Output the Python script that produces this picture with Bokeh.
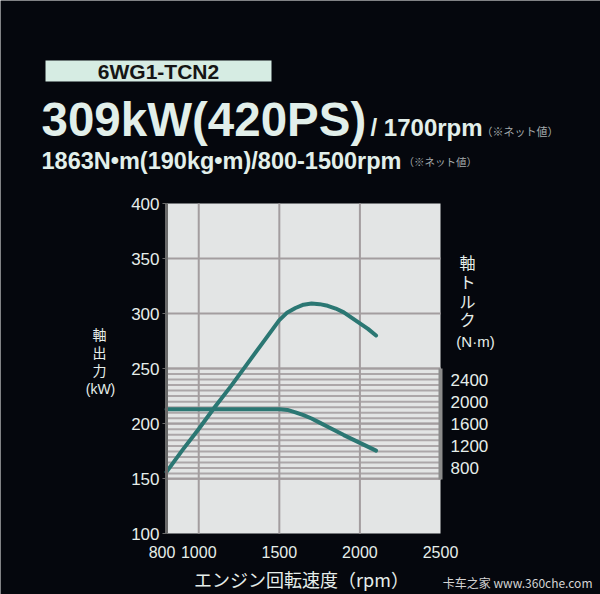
from bokeh.plotting import figure
from bokeh.models import Range1d, LinearAxis, FixedTicker, Label, BoxAnnotation
from bokeh.embed import file_html
from bokeh.resources import INLINE

# Shaft output curve: engine speed (rpm) -> kW
power_rpm = [800, 900, 1000, 1100, 1200, 1300, 1400, 1450, 1500, 1550, 1600,
             1650, 1700, 1750, 1800, 1850, 1900, 1950, 2000, 2050, 2100]
power_kw = [156, 176, 195, 215, 234, 254, 274, 284, 294, 301, 305,
            308, 309, 308.5, 307, 304.5, 301, 296, 291, 286, 280]

# Shaft torque curve: engine speed (rpm) -> N·m
torque_rpm = [800, 1000, 1200, 1400, 1500, 1550, 1600, 1650, 1700, 1750,
              1800, 1900, 2000, 2100]
torque_nm = [1863, 1863, 1863, 1863, 1863, 1850, 1805, 1755, 1695, 1620,
             1545, 1395, 1255, 1115]

x_ticks = [800, 1000, 1500, 2000, 2500]
kw_ticks = [100, 150, 200, 250, 300, 350, 400]
nm_ticks = [800, 1200, 1600, 2000, 2400]
nm_rules = list(range(600, 2700, 100))
rpm_lo, rpm_hi = 800, 2500
kw_lo, kw_hi = 100, 400

W, H = 600, 594
# chart area on the canvas (px): left, right, top, bottom
AL, AR, AT, AB = 166, 440, 203, 533

BG = "#05070d"
PLOT_BG = "#e3e5e5"
INK = "#e6eeea"
HEAD = "#e2efea"
NOTE = "#a4aaac"
CURVE = "#2b7773"
GRID = "#a39d9f"
SANS = "Liberation Sans"
JP = "Noto Sans CJK JP"
NBSP = "\u00a0"

# the frame covers the whole canvas; ranges are stretched so the chart
# area lands on its pixel box
rx = (rpm_hi - rpm_lo) / (AR - AL)
ry = (kw_hi - kw_lo) / (AB - AT)
x_range = Range1d(rpm_lo - AL * rx, rpm_hi + (W - AR) * rx)
y_range = Range1d(kw_lo - (H - AB) * ry, kw_hi + AT * ry)
nm_per_px = 1600 / 88.5          # 800 N·m at y=467.5 px, 2400 N·m at y=379 px
torque_range = Range1d(800 - (H - 467.5) * nm_per_px, 800 + 467.5 * nm_per_px)

p = figure(width=W, height=H, x_range=x_range, y_range=y_range,
           output_backend="svg", toolbar_location=None,
           x_axis_location=None, y_axis_location=None, min_border=0)
p.extra_y_ranges = {"torque": torque_range}
p.background_fill_color = BG
p.border_fill_color = BG
p.outline_line_color = None
p.grid.visible = False

# chart area
p.add_layout(BoxAnnotation(left=rpm_lo, right=rpm_hi, bottom=kw_lo, top=kw_hi,
                           fill_color=PLOT_BG, fill_alpha=1.0, line_color=None,
                           level="underlay"))

# torque scale rules
n = len(nm_rules)
p.segment(x0=[rpm_lo] * n, x1=[rpm_hi] * n, y0=nm_rules, y1=nm_rules,
          y_range_name="torque", line_color="#aca7a9", line_width=2)

# grid lines
gx = x_ticks[1:-1]
p.segment(x0=gx, x1=gx, y0=[kw_lo] * len(gx), y1=[kw_hi] * len(gx),
          line_color=GRID, line_width=2)
gy = kw_ticks[1:-1]
p.segment(x0=[rpm_lo] * len(gy), x1=[rpm_hi] * len(gy), y0=gy, y1=gy,
          line_color=GRID, line_width=2)

# curves
p.line(power_rpm, power_kw, line_color=CURVE, line_width=4, line_cap="round", line_join="round")
p.line(torque_rpm, torque_nm, y_range_name="torque", line_color=CURVE, line_width=4,
       line_cap="round", line_join="round")

# axes pinned to the chart area edges
xa = LinearAxis(fixed_location=kw_lo, bounds=(rpm_lo, rpm_hi), ticker=FixedTicker(ticks=x_ticks))
xa.axis_line_color = None
xa.major_tick_line_color = None
xa.minor_tick_line_color = None
xa.major_label_standoff = 4
xa.major_label_text_font = SANS
xa.major_label_text_font_size = "16px"
xa.major_label_text_color = INK
# keep the first label clear of "1000"
xa.major_label_overrides = {800: "800" + NBSP * 2}
p.add_layout(xa, "below")

ya = LinearAxis(fixed_location=rpm_lo, bounds=(kw_lo, kw_hi), ticker=FixedTicker(ticks=kw_ticks))
ya.axis_line_color = "#6a6a6a"
ya.axis_line_width = 3
ya.major_tick_line_color = "#6a6a6a"
ya.major_tick_in = 0
ya.major_tick_out = 4
ya.minor_tick_line_color = None
ya.major_label_standoff = 3
ya.major_label_text_font = SANS
ya.major_label_text_font_size = "17px"
ya.major_label_text_color = INK
p.add_layout(ya, "left")

ra = LinearAxis(y_range_name="torque", fixed_location=rpm_hi, bounds=(600, 2600),
                ticker=FixedTicker(ticks=nm_ticks))
ra.axis_line_color = "#8c8c8c"
ra.axis_line_width = 4
ra.major_tick_line_color = None
ra.minor_tick_line_color = None
ra.major_label_standoff = 4
ra.major_label_text_font = SANS
ra.major_label_text_font_size = "17px"
ra.major_label_text_color = INK
p.add_layout(ra, "right")


def put(text, x, y, size, color=INK, font=JP, style="normal", align="left"):
    """Place a text centred vertically on canvas pixel row y (from the top)."""
    p.add_layout(Label(x=x, y=H - y, x_units="screen", y_units="screen", text=text,
                       text_font=font, text_font_size=f"{size}px", text_font_style=style,
                       text_color=color, text_align=align, text_baseline="middle"))


# engine model tag
p.add_layout(BoxAnnotation(left=45, right=271, bottom=H - 81, top=H - 60,
                           left_units="screen", right_units="screen",
                           bottom_units="screen", top_units="screen",
                           fill_color="#d6ece3", fill_alpha=1.0, line_color=None))
put("6WG1-TCN2", 158, 71, 21, color="#151515", font=SANS, style="bold", align="center")

# headline figures
put("309kW(420PS)", 41, 119, 47.5, color=HEAD, font=SANS, style="bold")
put("/ 1700rpm", 370, 127, 24, color=HEAD, font=SANS, style="bold")
put("（※ネット値）", 481, 130, 11, color=NOTE)
put("1863N•m(190kg•m)/800-1500rpm", 41, 160, 23.5, color=HEAD, font=SANS, style="bold")
put("（※ネット値）", 403, 161, 10.5, color=NOTE)

# left axis title (vertical)
for ch, cy in zip(["軸", "出", "力"], [333, 351, 369]):
    put(ch, 99, cy, 14, align="center")
put("(kW)", 100, 388, 14, font=SANS, align="center")

# right axis title (vertical)
for ch, cy in zip(["軸", "ト", "ル", "ク"], [261, 280, 300, 318]):
    put(ch, 467, cy, 16, align="center")
put("(N·m)", 475, 341, 15, font=SANS, align="center")

# x axis title
put("エンジン回転速度（rpm）", 301, 578, 18, align="center")

# site credit
put("卡车之家 www.360che.com", 592, 582, 12, color="#d4d4d4", font="Noto Sans CJK SC",
    align="right")

open("out.html", "w").write(file_html(p, INLINE))
